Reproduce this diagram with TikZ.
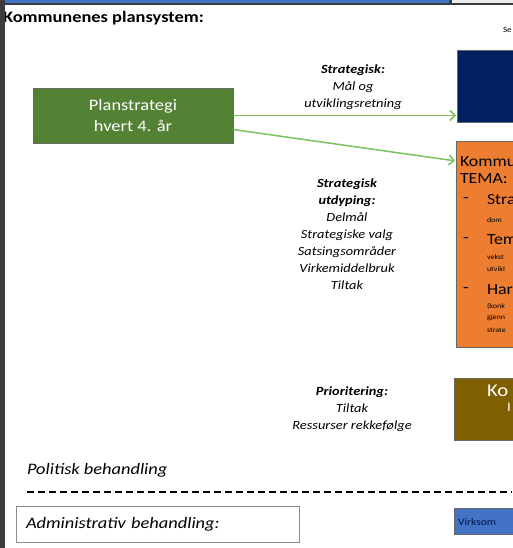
\documentclass[tikz,border=0pt]{standalone}
\usepackage{fontspec}
\setmainfont{Carlito}[FakeStretch=1.15]
\usepackage{tikz}
\usetikzlibrary{positioning}
\usetikzlibrary{arrows.meta}
\definecolor{framegray}{RGB}{60,60,60}
\definecolor{barblue}{RGB}{68,114,196}
\definecolor{plangreen}{RGB}{84,130,53}
\definecolor{arrowgreen}{RGB}{120,195,90}
\definecolor{navy}{RGB}{0,32,96}
\definecolor{temaorange}{RGB}{237,125,49}
\definecolor{prioBrown}{RGB}{127,96,0}

\begin{document}
\begin{tikzpicture}[
            x = 1pt, y = -1pt, % one unit is one pixel, y downwards
            > = {Straight Barb[length=5pt,width=10pt]}, % arrow head style
            shorten > = 1pt, % don't touch arrow head to node
            semithick % line style
        ]

        \tikzstyle{every node}=[inner sep = 0pt, outer sep = 0pt]
        \tikzstyle{box}=[
            draw = black!60,
            line width = 0.8pt,
            anchor = north west
        ]
        \tikzstyle{steptext}=[
            align = center,
            font = \fontsize{12.5}{17}\selectfont\itshape
        ]
        \tikzstyle{big}=[anchor = west, font = \fontsize{15.5}{18}\selectfont]
        \tikzstyle{small}=[anchor = west, font = \fontsize{7}{8}\selectfont]

        \useasboundingbox (0,0) rectangle (513,548);
        \clip (0,0) rectangle (513,548);
        \fill[white] (0,0) rectangle (513,548);

	% title
        \node (T) [anchor = west, font = \fontsize{16}{18}\selectfont\bfseries] at (3,18) {Kommunenes plansystem:};
        \node (SE) [anchor = west, font = \fontsize{8}{9}\selectfont] at (503,30) {Se};

	% plan levels
        \node[box, fill = plangreen, minimum width = 200pt, minimum height = 55pt,
              text = white, align = center, font = \fontsize{16}{21}\selectfont] (PS) at (33,88)
              {Planstrategi\\hvert 4. år};
        \node[box, fill = navy, minimum width = 80pt, minimum height = 72pt] (MP) at (457,50) {};
        \node[box, fill = temaorange, minimum width = 80pt, minimum height = 206pt] (TS) at (456,141) {};
        \node[box, fill = prioBrown, minimum width = 80pt, minimum height = 62pt] (KH) at (454,378) {};
        \node[box, fill = barblue, minimum width = 80pt, minimum height = 26pt] (VP) at (454,508) {};

        \path[->, arrowgreen, line width = 1.5pt] (PS.east) edge (PS.east -| MP.west);
        \path[->, arrowgreen, line width = 1.5pt] ([yshift = -14pt]PS.east) edge ([yshift = -20pt]TS.north west);

	% text in the boxes
        \node[big] (K1) at (460,162) {Kommu};
        \node[big] (K2) at (460,179) {TEMA:};
        \node[big] (D1) at (463,200) {-};
        \node[big] (S1) at (487,200) {Stra};
        \node[small] (S1a) at (487,220) {dom};
        \node[big] (D2) at (463,240) {-};
        \node[big] (S2) at (487,240) {Tem};
        \node[small] (S2a) at (487,257) {vekst};
        \node[small] (S2b) at (487,269) {utvikl};
        \node[big] (D3) at (463,290) {-};
        \node[big] (S3) at (487,290) {Har};
        \node[small] (S3a) at (487,306) {(konk};
        \node[small] (S3b) at (487,318) {gjenn};
        \node[small] (S3c) at (487,330) {strate};
        \node[anchor = west, text = white, font = \fontsize{18}{20}\selectfont] (KO) at (487,391) {Ko};
        \node[anchor = west, text = white, font = \fontsize{13}{15}\selectfont] (KI) at (507,407) {I};
        \node[anchor = west, text = navy!70!black, font = \fontsize{10}{12}\selectfont] (VT) at (458,522) {Virksom};

	% what is decided
        \node[steptext] (L1) at (353,87) {\textbf{Strategisk:}\\Mål og\\utviklingsretning};
        \node[steptext] (L2) at (347,234) {\textbf{Strategisk}\\\textbf{utdyping:}\\Delmål\\Strategiske valg\\Satsingsområder\\Virkemiddelbruk\\Tiltak};
        \node[steptext] (L3) at (352,409) {\textbf{Prioritering:}\\Tiltak\\Ressurser rekkefølge};

	% political / administrative
        \node (PB) [anchor = west, font = \fontsize{16}{18}\selectfont\itshape] at (27,470) {Politisk behandling};
        \draw[line width = 1.5pt, dash pattern = on 7pt off 4pt] (27,492) -- (513,492);
        \node[box, draw = black!45, text width = 263pt, minimum height = 36pt, inner xsep = 10pt,
              align = left, font = \fontsize{16}{18}\selectfont\itshape] (AB) at (16,506)
              {Administrativ behandling:};

	% window frame
        \fill[barblue] (0,0) rectangle (449,3);
        \fill[black!8] (452,0) rectangle (513,3);
        \fill[framegray] (449,0) rectangle (452,3);
        \fill[framegray] (0,3) rectangle (513,5.5);
        \fill[framegray] (0,0) rectangle (5,548);

  \end{tikzpicture}
\end{document}
